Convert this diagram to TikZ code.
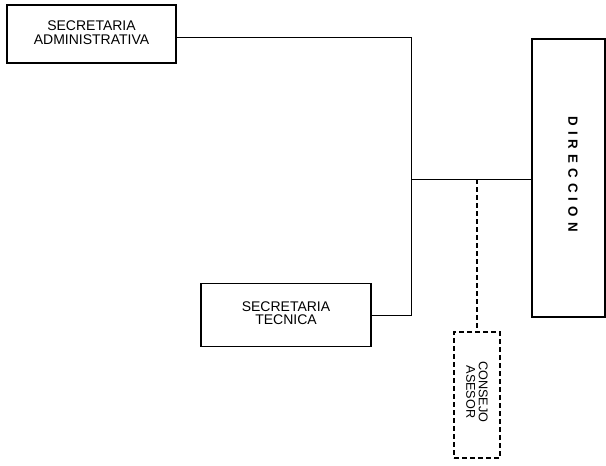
\documentclass[tikz,border=0pt]{standalone}
\usepackage{fontspec}
\setmainfont{Liberation Sans}
\begin{document}
\begin{tikzpicture}[x=0.75pt,y=-0.75pt,
  orgbox/.style={draw, line width=1.3pt, inner sep=0pt, align=center, font=\fontsize{10.5}{10}\selectfont},
  conn/.style={line width=0.7pt},
  dconn/.style={line width=0.9pt, dash pattern=on 4pt off 2pt}]
\useasboundingbox (0,0) rectangle (606,465);
\node[orgbox, minimum width=169*0.75pt, minimum height=58*0.75pt, text depth=2pt] (sa) at (91.5,34) {SECRETARIA\\ADMINISTRATIVA};
\node[orgbox, minimum width=170*0.75pt, minimum height=63*0.75pt, text depth=3pt] (st) at (286,315) {SECRETARIA\\TECNICA};
\node[orgbox, minimum width=73*0.75pt, minimum height=278*0.75pt] (dir) at (568.5,178) {};
\node[rotate=-90, font=\bfseries\fontsize{10}{10}\selectfont] (dirt) at (573,174) {D\hspace{3.8pt}I\hspace{3.8pt}R\hspace{3.8pt}E\hspace{3.8pt}C\hspace{3.8pt}C\hspace{3.8pt}I\hspace{3.8pt}O\hspace{3.8pt}N};
\node[draw, line width=1.1pt, dash pattern=on 4pt off 2pt, minimum width=46*0.75pt, minimum height=126*0.75pt, inner sep=0pt] (ca) at (477,395) {};
\node[rotate=-90, align=center, font=\fontsize{9.5}{9.5}\selectfont] (cat) at (477,392) {CONSEJO\\ASESOR};
\coordinate (j1) at (411,37);
\coordinate (j2) at (411,315);
\coordinate (j3) at (411,179);
\coordinate (j4) at (477,179);
\draw[conn] (sa.east |- j1) -- (j1) -- (j2) -- (st.east);
\draw[conn] (j3) -- (dir.west |- j3);
\draw[dconn] (j4) -- (ca.north);
\end{tikzpicture}
\end{document}
